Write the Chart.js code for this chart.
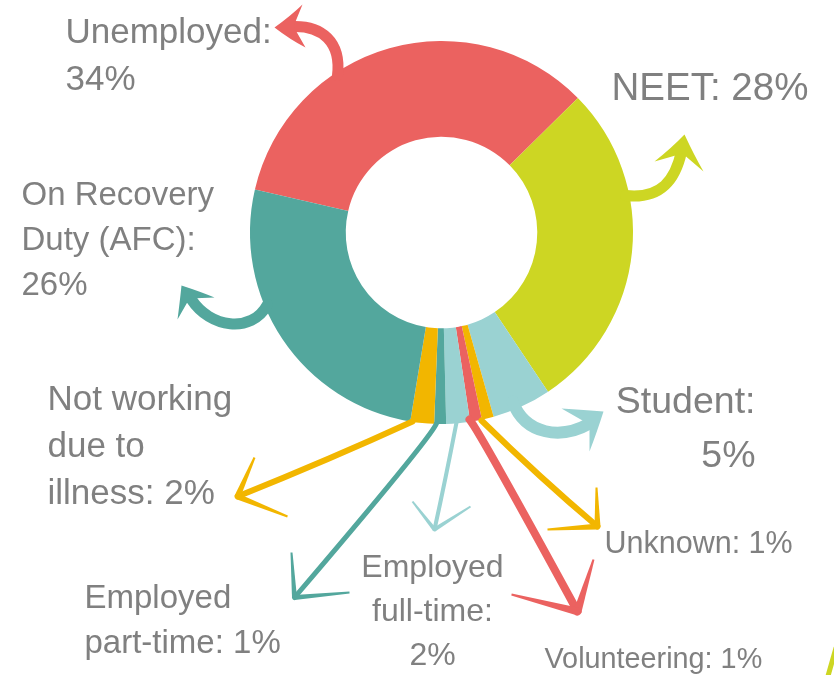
<!DOCTYPE html>
<html>
<head>
<meta charset="utf-8">
<script src="https://cdn.jsdelivr.net/npm/chart.js@4.4.0/dist/chart.umd.min.js"></script>
<style>
  html, body { margin: 0; padding: 0; background: #fff; }
  canvas { display: block; }
</style>
</head>
<body>
<canvas id="chart" width="834" height="675"></canvas>
<script>
// slices, clockwise from the Unemployed / On Recovery boundary
const categories = [
  "Unemployed", "NEET", "Student", "Unknown", "Volunteering",
  "Employed full-time", "Employed part-time",
  "Not working due to illness", "On Recovery Duty (AFC)"
];
const shares = [34, 28, 5, 1, 1, 2, 1, 2, 26];
const sliceColors = [
  "#EB6260", "#CDD623", "#9AD2D2", "#F2B600", "#EB6260",
  "#9AD2D2", "#53A79D", "#F2B600", "#53A79D"
];
// label text per slice, "%" is replaced by the share
const labelLines = [
  ["Unemployed:", "%"],
  ["NEET: %"],
  ["Student:", "%"],
  ["Unknown: %"],
  ["Volunteering: %"],
  ["Employed", "full-time:", "%"],
  ["Employed", "part-time: %"],
  ["Not working", "due to", "illness: %"],
  ["On Recovery", "Duty (AFC):", "%"]
];

const TEXT = "#808080";
const CX = 442, CY = 233; // design centre, callouts are placed relative to it

// where each label sits (x, first baseline, line gap, size, align)
const labelPos = [
  { x: 66, y: 43, gap: 47, size: 35, align: "left" },
  { x: 612, y: 100, gap: 0, size: 38.5, align: "left" },
  { x: 756, y: 413, gap: 54, size: 37.5, align: "right" },
  { x: 605, y: 553, gap: 0, size: 30.5, align: "left" },
  { x: 545, y: 668, gap: 0, size: 28.8, align: "left" },
  { x: 433, y: 577, gap: 44, size: 32, align: "center" },
  { x: 85, y: 608, gap: 45, size: 33, align: "left" },
  { x: 48, y: 410, gap: 47, size: 35, align: "left" },
  { x: 22, y: 205, gap: 45, size: 33, align: "left" }
];

// hand drawn arrows: shaft points, head [barb, tip, barb], notch for filled heads
const arrows = [
  { i: 0, w: 11, shaft: [[338, 76], [342, 42], [322, 26], [293, 27]],
    head: [[303, 5], [275, 28], [306, 48]], notch: [294, 27] },
  { i: 1, w: 11, shaft: [[626, 196], [662, 200], [676, 180], [682, 152]],
    head: [[655, 162], [685, 135], [704, 172]], notch: [683, 154] },
  { i: 2, w: 12, shaft: [[513, 402], [526, 436], [562, 440], [590, 424]],
    head: [[562, 409], [604, 412], [590, 452]], notch: [590, 425] },
  { i: 3, w: 6, shaft: [[482, 421], [540, 478], [598, 527]],
    head: [[597, 488], [598, 527], [548, 530]] },
  { i: 4, w: 8, shaft: [[470, 420], [480, 432], [578, 612]],
    head: [[594, 560], [578, 612], [512, 595]] },
  { i: 5, w: 4, shaft: [[457, 423], [446, 480], [435, 530]],
    head: [[413, 502], [435, 530], [471, 507]] },
  { i: 6, w: 5, shaft: [[437, 424], [430, 440], [295, 598]],
    head: [[292, 553], [295, 598], [350, 593]] },
  { i: 7, w: 6, shaft: [[413, 422], [330, 460], [238, 497]],
    head: [[255, 458], [238, 497], [288, 517]] },
  { i: 8, w: 11, shaft: [[268, 305], [252, 335], [210, 328], [192, 300]],
    head: [[215, 298], [182, 286], [178, 320]], notch: [190, 299] }
];

function tracePath(ctx, pts, dx, dy) {
  const p = pts.map(q => [q[0] + dx, q[1] + dy]);
  ctx.moveTo(p[0][0], p[0][1]);
  if (p.length === 2) ctx.lineTo(p[1][0], p[1][1]);
  else if (p.length === 3) ctx.quadraticCurveTo(p[1][0], p[1][1], p[2][0], p[2][1]);
  else ctx.bezierCurveTo(p[1][0], p[1][1], p[2][0], p[2][1], p[3][0], p[3][1]);
}

// tapered stroke, wide at `a`, thin at `b`
function taper(ctx, a, b, w0, w1) {
  const dx = b[0] - a[0], dy = b[1] - a[1];
  const len = Math.hypot(dx, dy) || 1;
  const nx = -dy / len, ny = dx / len;
  ctx.beginPath();
  ctx.moveTo(a[0] + nx * w0 / 2, a[1] + ny * w0 / 2);
  ctx.lineTo(b[0] + nx * w1 / 2, b[1] + ny * w1 / 2);
  ctx.lineTo(b[0] - nx * w1 / 2, b[1] - ny * w1 / 2);
  ctx.lineTo(a[0] - nx * w0 / 2, a[1] - ny * w0 / 2);
  ctx.closePath();
  ctx.fill();
}

const callouts = {
  id: "callouts",
  afterDatasetsDraw(chart) {
    const ctx = chart.ctx;
    const meta = chart.getDatasetMeta(0);
    const dx = meta.data[0].x - CX, dy = meta.data[0].y - CY;
    ctx.save();
    ctx.lineCap = "round";
    ctx.lineJoin = "round";

    arrows.forEach(a => {
      const col = sliceColors[a.i];
      ctx.strokeStyle = col;
      ctx.fillStyle = col;
      ctx.lineWidth = a.w;
      ctx.beginPath();
      tracePath(ctx, a.shaft, dx, dy);
      ctx.stroke();
      const [b1, tip, b2] = a.head.map(q => [q[0] + dx, q[1] + dy]);
      if (a.notch) {
        const n = [a.notch[0] + dx, a.notch[1] + dy];
        ctx.beginPath();
        ctx.moveTo(b1[0], b1[1]);
        ctx.quadraticCurveTo((b1[0] + tip[0]) / 2 + 2, (b1[1] + tip[1]) / 2, tip[0], tip[1]);
        ctx.quadraticCurveTo((b2[0] + tip[0]) / 2, (b2[1] + tip[1]) / 2 + 2, b2[0], b2[1]);
        ctx.lineTo(n[0], n[1]);
        ctx.closePath();
        ctx.fill();
      } else {
        taper(ctx, tip, b1, a.w, 2);
        taper(ctx, tip, b2, a.w, 2);
      }
    });

    // bit of a neighbouring arrow cut off at the corner
    ctx.strokeStyle = sliceColors[1];
    ctx.lineWidth = 5;
    ctx.beginPath();
    ctx.moveTo(836, 648);
    ctx.lineTo(828, 676);
    ctx.stroke();

    ctx.fillStyle = TEXT;
    ctx.textBaseline = "alphabetic";
    labelPos.forEach((p, i) => {
      ctx.font = p.size + "px 'Liberation Sans', Arial, sans-serif";
      ctx.textAlign = p.align;
      labelLines[i].forEach((line, k) => {
        const txt = line.replace("%", shares[i] + "%");
        ctx.fillText(txt, p.x + dx, p.y + k * p.gap + dy);
      });
    });
    ctx.restore();
  }
};

new Chart(document.getElementById("chart"), {
  type: "doughnut",
  data: {
    labels: categories,
    datasets: [{
      data: shares,
      backgroundColor: sliceColors,
      borderWidth: 0,
      hoverOffset: 0
    }]
  },
  options: {
    responsive: false,
    animation: false,
    rotation: -77,
    cutout: "50%",
    layout: { padding: { left: 250, right: 201, top: 41, bottom: 251 } },
    plugins: {
      legend: { display: false },
      tooltip: { enabled: false }
    }
  },
  plugins: [callouts]
});
</script>
</body>
</html>
